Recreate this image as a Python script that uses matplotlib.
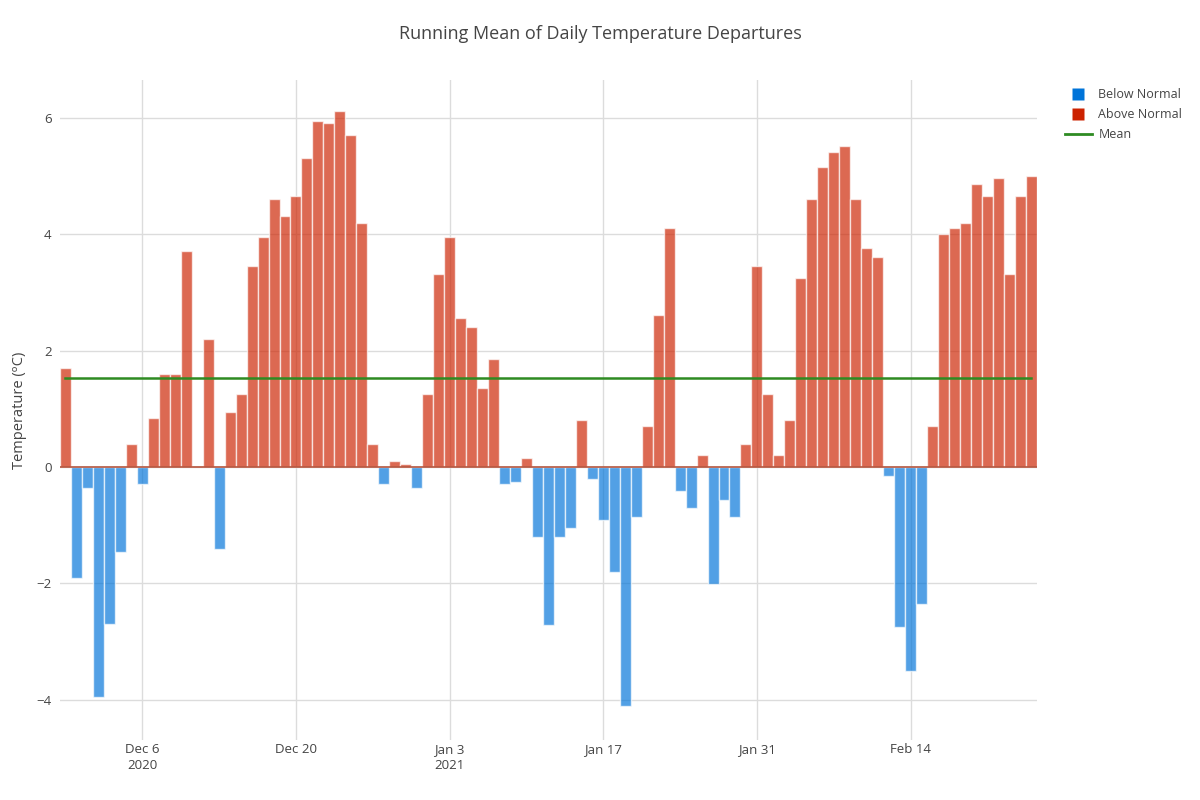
import matplotlib
matplotlib.use("Agg")
import matplotlib.pyplot as plt
import matplotlib.dates as mdates
from matplotlib.lines import Line2D
import numpy as np
import pandas as pd

start_date = "2020-11-29"
values = [
    1.70, -1.90, -0.36, -3.95, -2.70, -1.46, 0.40, -0.30, 0.85, 1.60,
    1.60, 3.71, 0.01, 2.20, -1.41, 0.95, 1.25, 3.46, 3.96, 4.60,
    4.31, 4.66, 5.31, 5.95, 5.91, 6.11, 5.71, 4.20, 0.40, -0.30,
    0.10, 0.05, -0.36, 1.25, 3.31, 3.96, 2.56, 2.40, 1.35, 1.85,
    -0.30, -0.26, 0.15, -1.21, -2.71, -1.21, -1.05, 0.80, -0.21, -0.91,
    -1.81, -4.10, -0.86, 0.70, 2.61, 4.11, -0.41, -0.71, 0.20, -2.01,
    -0.56, -0.86, 0.40, 3.46, 1.25, 0.20, 0.80, 3.25, 4.60, 5.16,
    5.41, 5.51, 4.60, 3.76, 3.61, -0.16, -2.75, -3.50, -2.35, 0.70,
    4.00, 4.11, 4.20, 4.86, 4.66, 4.96, 3.31, 4.66, 5.00,
]
mean_value = 1.53
tick_dates = ["2020-12-06", "2020-12-20", "2021-01-03", "2021-01-17", "2021-01-31", "2021-02-14"]
tick_labels = ["Dec 6\n2020", "Dec 20", "Jan 3\n2021", "Jan 17", "Jan 31", "Feb 14"]
y_ticks = [-4, -2, 0, 2, 4, 6]

dates = pd.date_range(start_date, periods=len(values), freq="D")
vals = np.array(values)
x = mdates.date2num(dates)

blue = "#0074D9"
red = "#CC2200"
green = "#2E8B22"
txt = "#444444"

plt.rcParams['font.family'] = ['Open Sans', 'DejaVu Sans']

fig = plt.figure(figsize=(12, 8), dpi=100)
ax = fig.add_axes([0.05, 0.075, 0.814, 0.825])

neg = vals < 0
ax.bar(x[neg], vals[neg], width=1.0, color=blue, alpha=0.68,
       edgecolor=(1, 1, 1, 0.6), linewidth=1.0, zorder=3)
ax.bar(x[~neg], vals[~neg], width=1.0, color=red, alpha=0.68,
       edgecolor=(1, 1, 1, 0.6), linewidth=1.0, zorder=3)
ax.plot([x[0], x[-1]], [mean_value, mean_value], color=green, lw=1.8, zorder=4)
ax.plot([x[0] - 0.5, x[-1] + 0.5], [0, 0], color="#b4553e", lw=1.2, zorder=3.5)

ax.set_xlim(x[0] - 0.5, x[-1] + 0.5)
ax.set_ylim(-4.69, 6.65)
ax.set_xticks(mdates.date2num(pd.to_datetime(tick_dates)))
ax.set_xticklabels(tick_labels, fontsize=9.5, color=txt, linespacing=1.3)
ax.set_yticks(y_ticks)
ax.set_yticklabels([str(v).replace("-", "\u2212") for v in y_ticks], fontsize=9.5, color=txt)
ax.tick_params(axis='both', length=0, pad=6)
ax.tick_params(axis='x', pad=2.5)
ax.grid(True, color="#dcdcdc", lw=1.0, zorder=0)
ax.set_axisbelow(True)
for s in ax.spines.values():
    s.set_visible(False)

ax.set_ylabel("Temperature (\u1d52C)", fontsize=10.5, color=txt, labelpad=7)
fig.text(0.5, 0.957, "Running Mean of Daily Temperature Departures",
         ha="center", va="center", fontsize=13, color=txt)

handles = [Line2D([0], [0], marker="s", linestyle="none", markersize=9,
                  markerfacecolor=blue, markeredgecolor="none", label="Below Normal"),
           Line2D([0], [0], marker="s", linestyle="none", markersize=9,
                  markerfacecolor=red, markeredgecolor="none", label="Above Normal"),
           Line2D([0], [0], color=green, lw=2, label="Mean")]
leg = fig.legend(handles=handles, loc="upper left", bbox_to_anchor=(0.883, 0.896),
                 frameon=False, fontsize=9, labelcolor=txt,
                 handlelength=2.2, handletextpad=0.5,
                 labelspacing=0.55, borderaxespad=0)

fig.savefig("out.png", dpi=100)
